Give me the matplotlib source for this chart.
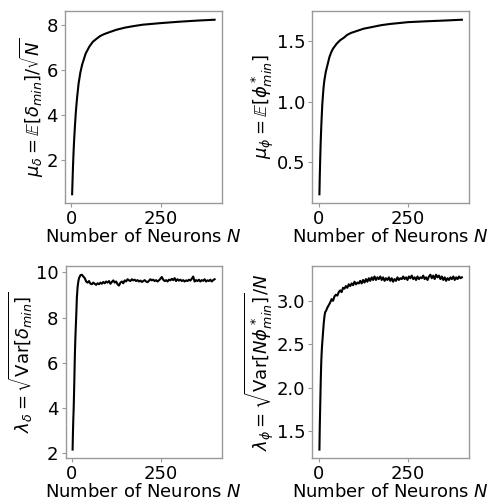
import numpy as np
import matplotlib
matplotlib.use("Agg")
import matplotlib.pyplot as plt

# ---- data ----
n_mean = [2, 3, 4, 5, 6, 7, 8, 10, 12, 14, 16, 20, 25, 30, 35, 40, 50, 60, 70, 80,
          90, 100, 125, 150, 175, 200, 250, 300, 350, 400]
mu_delta = [0.48, 1.0, 1.5, 1.95, 2.35, 2.7, 3.0, 3.55, 4.05, 4.45, 4.8, 5.4, 5.9, 6.25,
            6.5, 6.75, 7.05, 7.27, 7.4, 7.52, 7.6, 7.66, 7.8, 7.9, 7.97, 8.03, 8.1,
            8.16, 8.21, 8.25]
mu_phi = [0.23, 0.38, 0.5, 0.61, 0.7, 0.78, 0.85, 0.975, 1.06, 1.13, 1.18, 1.25, 1.31,
          1.37, 1.41, 1.44, 1.48, 1.51, 1.53, 1.555, 1.57, 1.58, 1.605, 1.62, 1.635,
          1.645, 1.66, 1.667, 1.673, 1.68]

n_var = [2, 3, 4, 5, 6, 7, 8, 9, 10, 12, 14, 16, 18, 20] + list(range(24, 401, 4))
lam_delta = [2.14, 2.9, 3.5, 3.95, 4.6, 5.3, 6.1, 6.7, 7.2, 8.0, 8.9, 9.35, 9.6, 9.75,
             9.88, 9.9, 9.82, 9.75, 9.6, 9.55, 9.62, 9.5, 9.48, 9.55,
             9.5, 9.45, 9.52, 9.48, 9.55, 9.5, 9.58, 9.52, 9.6, 9.55,
             9.62, 9.5, 9.58, 9.65, 9.55, 9.6, 9.48, 9.42, 9.55, 9.6,
             9.52, 9.65, 9.6, 9.7, 9.65, 9.62, 9.7, 9.65, 9.68, 9.62,
             9.66, 9.6, 9.64, 9.58, 9.62, 9.66, 9.6, 9.57, 9.63, 9.7,
             9.65, 9.68, 9.62, 9.66, 9.6, 9.65, 9.72, 9.8, 9.68, 9.62,
             9.66, 9.6, 9.68, 9.65, 9.72, 9.66, 9.75, 9.62, 9.7, 9.64,
             9.68, 9.62, 9.66, 9.6, 9.65, 9.62, 9.68, 9.64, 9.72, 9.82,
             9.6, 9.66, 9.62, 9.68, 9.6, 9.66, 9.63, 9.7, 9.6, 9.65,
             9.62, 9.68, 9.6, 9.66, 9.7]
lam_phi = [1.29, 1.55, 1.75, 1.95, 2.13, 2.28, 2.38, 2.46, 2.52, 2.63, 2.74, 2.82, 2.87, 2.88,
           2.92, 2.95, 2.98, 3.02, 3.0, 3.05, 3.07, 3.06, 3.1, 3.12,
           3.1, 3.15, 3.14, 3.17, 3.15, 3.19, 3.17, 3.2, 3.18, 3.22,
           3.19, 3.21, 3.2, 3.23, 3.2, 3.24, 3.21, 3.25, 3.22, 3.26,
           3.23, 3.27, 3.24, 3.28, 3.24, 3.27, 3.25, 3.28, 3.24, 3.27,
           3.23, 3.26, 3.24, 3.27, 3.23, 3.26, 3.22, 3.25, 3.23, 3.27,
           3.24, 3.26, 3.25, 3.28, 3.25, 3.27, 3.24, 3.28, 3.26, 3.29,
           3.25, 3.27, 3.24, 3.28, 3.25, 3.27, 3.26, 3.29, 3.25, 3.27,
           3.24, 3.28, 3.3, 3.26, 3.29, 3.25, 3.3, 3.27, 3.29, 3.25,
           3.28, 3.24, 3.27, 3.23, 3.26, 3.24, 3.27, 3.25, 3.28, 3.24,
           3.27, 3.25, 3.28, 3.26, 3.27]

xticks = [0, 250]
xlabel = r"Number of Neurons $N$"
ylabels = [r"$\mu_\delta = \mathbb{E}[\delta_{min}]/\sqrt{N}$",
           r"$\mu_\phi = \mathbb{E}[\phi^*_{min}]$",
           r"$\lambda_\delta = \sqrt{\mathrm{Var}[\delta_{min}]}$",
           r"$\lambda_\phi = \sqrt{\mathrm{Var}[N\phi^*_{min}]}/N$"]

series = [(n_mean, mu_delta), (n_mean, mu_phi), (n_var, lam_delta), (n_var, lam_phi)]

fig = plt.figure(figsize=(4.94, 5.0), dpi=100)
W, H = 494, 500
boxes = [(65, 11, 221.7, 203), (312.3, 11, 469, 203),
         (65.5, 266, 221.7, 458.3), (312.3, 266, 469, 458.3)]
fs = 13
for (x, y), (l, t, r, b), yl in zip(series, boxes, ylabels):
    ax = fig.add_axes([l / W, 1 - b / H, (r - l) / W, (b - t) / H])
    ax.plot(x, y, color="black", lw=1.5)
    ax.set_xticks(xticks)
    ax.set_xlabel(xlabel, fontsize=fs, labelpad=0)
    ax.set_ylabel(yl, fontsize=fs, labelpad=0.5)
    ax.tick_params(labelsize=fs, length=3, width=0.8, color="0.6", pad=2)
    for s in ax.spines.values():
        s.set_color("0.6")
        s.set_linewidth(1.0)

fig.savefig("out.png", dpi=100)
